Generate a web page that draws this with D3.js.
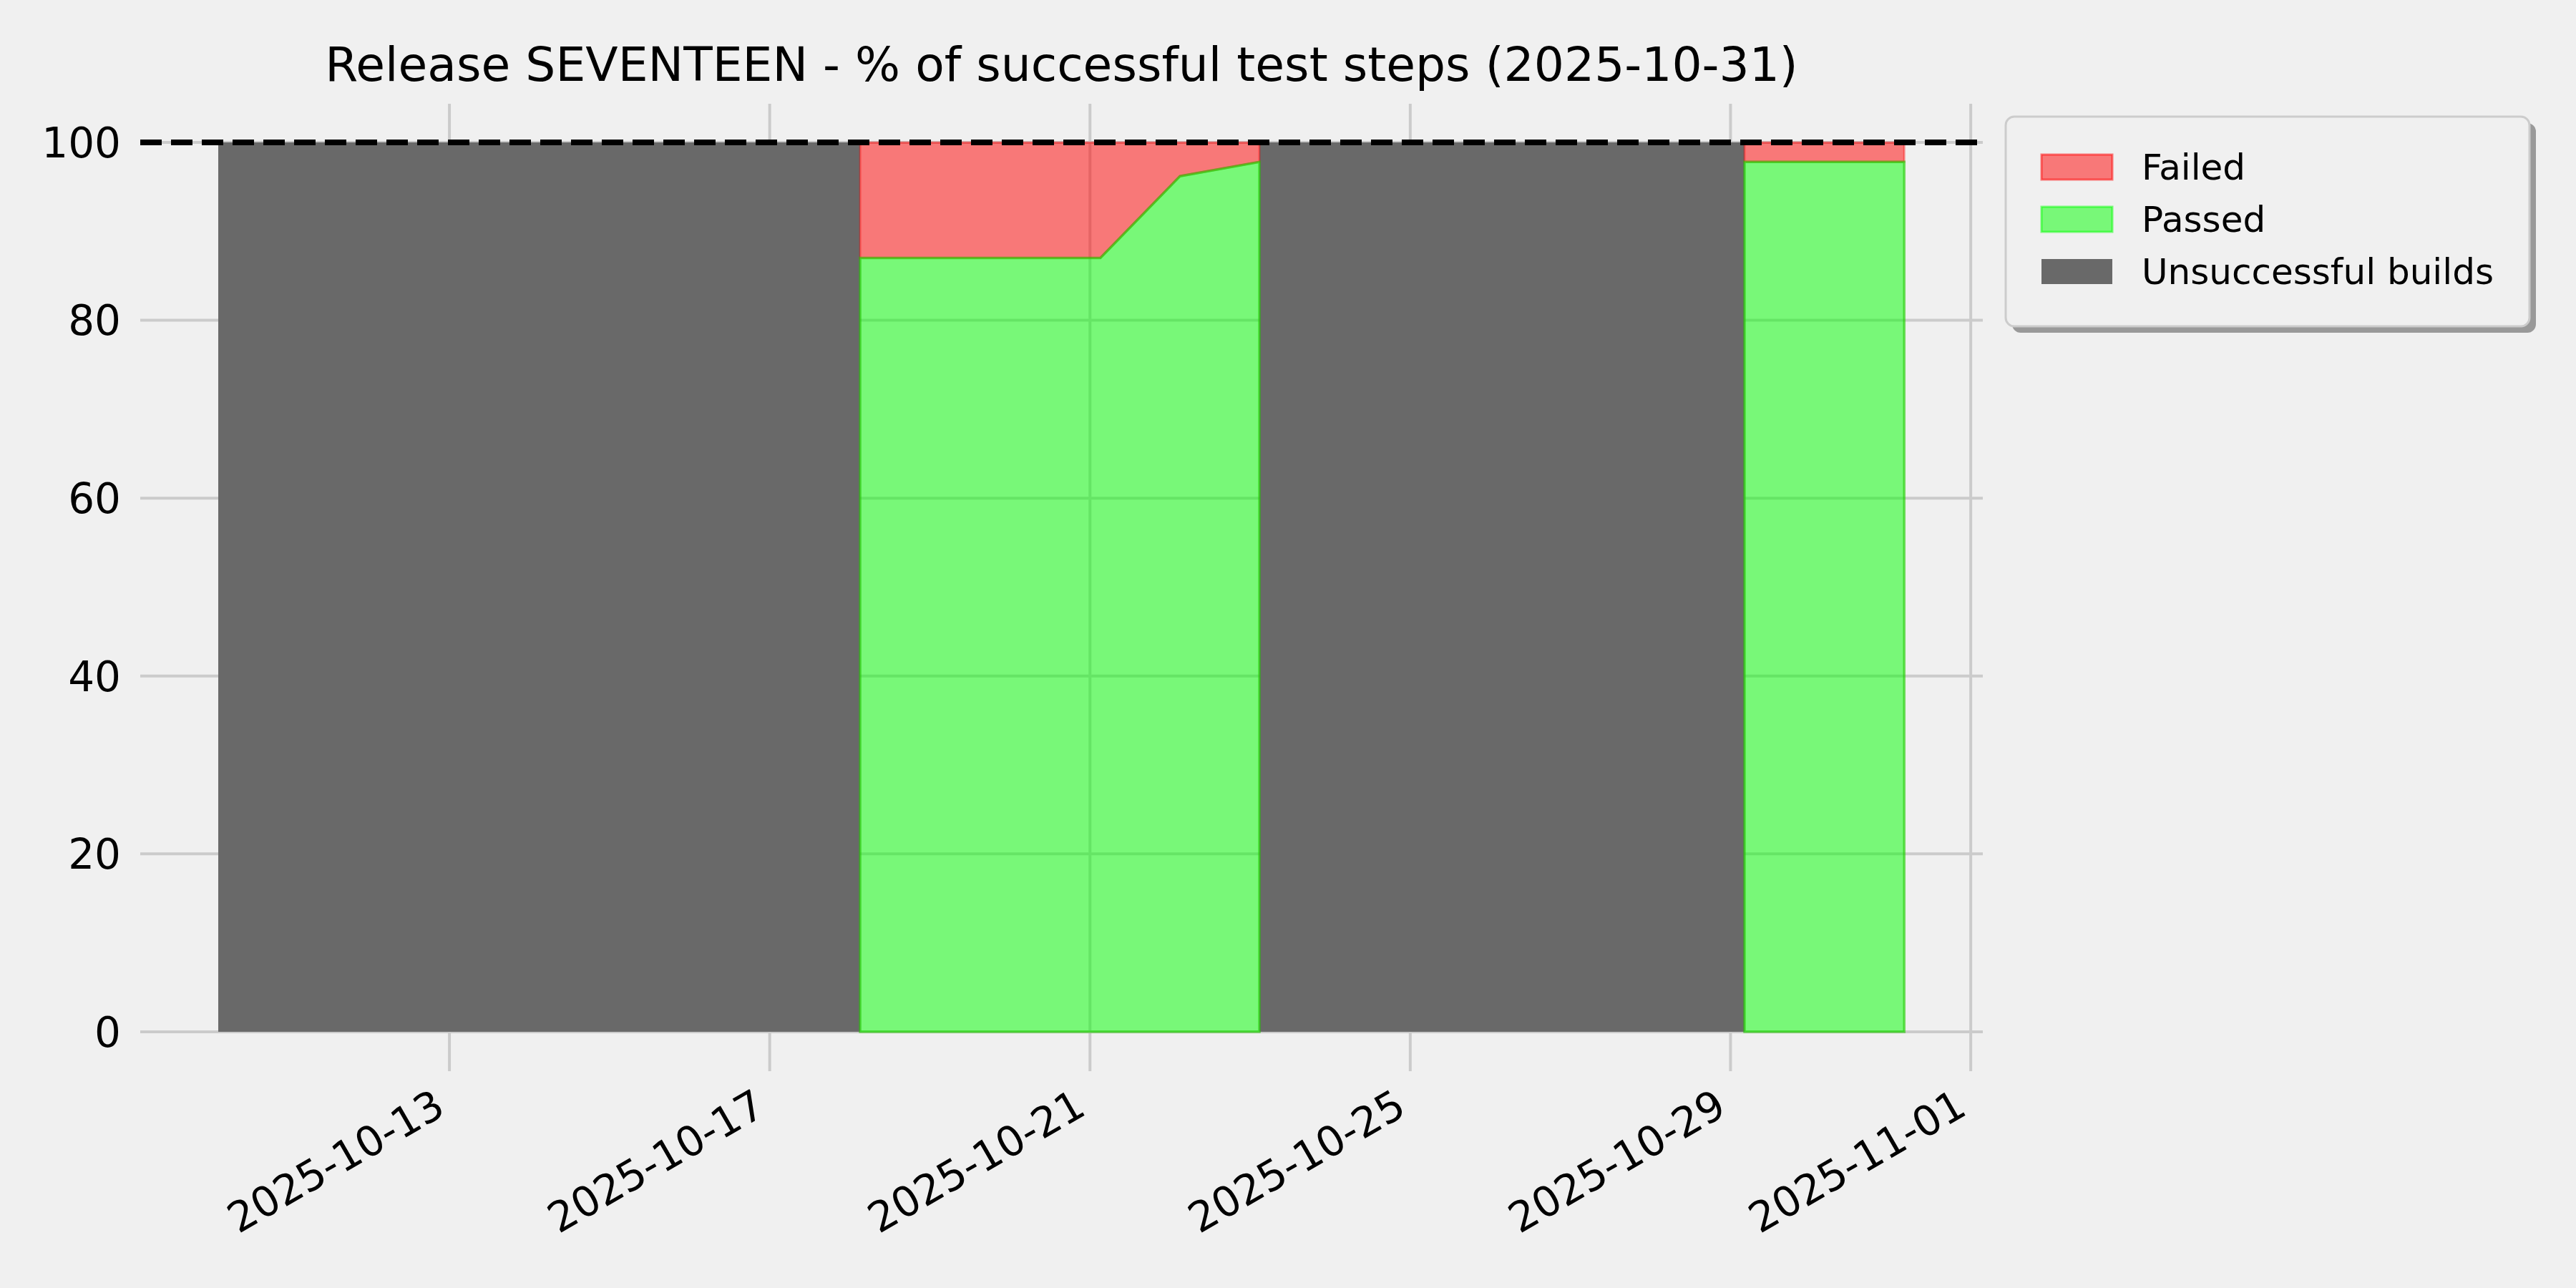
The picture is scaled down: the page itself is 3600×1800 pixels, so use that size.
<!DOCTYPE html>
<html>
<head>
<meta charset="utf-8">
<script src="https://cdn.jsdelivr.net/npm/d3@7"></script>
<style>
  html, body { margin: 0; padding: 0; background: #f0f0f0; }
  svg { display: block; }
</style>
</head>
<body>
<svg id="chart" width="3600" height="1800"></svg>
<script>
// data
const chartTitle = "Release SEVENTEEN - % of successful test steps (2025-10-31)";
const failedBuildStart = ["2025-10-10 02:43", "2025-10-23 02:47"];
const failedBuildEnd   = ["2025-10-18 03:07", "2025-10-29 04:12"];
const testDates = ["2025-10-18 03:07", "2025-10-19 03:07", "2025-10-20 03:07", "2025-10-21 03:07",
                   "2025-10-22 02:59", "2025-10-23 02:47",
                   "2025-10-29 04:12", "2025-10-30 04:08", "2025-10-31 04:05"];
const testGroup  = [1, 1, 1, 1, 1, 1, 2, 2, 2];
const passedPct  = [87.0, 87.0, 87.0, 87.0, 96.2, 97.8, 97.8, 97.8, 97.8];
const failedPct  = [13.0, 13.0, 13.0, 13.0, 3.8, 2.2, 2.2, 2.2, 2.2];
const xTickLabels = ["2025-10-13", "2025-10-17", "2025-10-21", "2025-10-25", "2025-10-29", "2025-11-01"];
const yTickValues = [0, 20, 40, 60, 80, 100];
const legendLabels = ["Failed", "Passed", "Unsuccessful builds"];

const parseTime = d3.utcParse("%Y-%m-%d %H:%M");
const parseDay = d3.utcParse("%Y-%m-%d");

const plotLeft = 196, plotRight = 2771, plotTop = 145, plotBottom = 1497;
const font = "DejaVu Sans, Liberation Sans, sans-serif";

const svg = d3.select("#chart");
svg.append("rect").attr("width", 3600).attr("height", 1800).style("fill", "#f0f0f0");

const x = d3.scaleUtc()
    .domain([parseTime("2025-10-09 03:20"), parseTime("2025-11-01 03:37")])
    .range([plotLeft, plotRight]);
const y = d3.scaleLinear()
    .domain([-4.43, 104.34])
    .range([plotBottom, plotTop]);

// grid
const grid = svg.append("g");
grid.selectAll(".gx").data(xTickLabels).enter().append("line")
    .attr("x1", d => x(parseDay(d))).attr("x2", d => x(parseDay(d)))
    .attr("y1", plotTop).attr("y2", plotBottom)
    .style("stroke", "#cbcbcb").style("stroke-width", 4);
grid.selectAll(".gy").data(yTickValues).enter().append("line")
    .attr("x1", plotLeft).attr("x2", plotRight)
    .attr("y1", d => y(d)).attr("y2", d => y(d))
    .style("stroke", "#cbcbcb").style("stroke-width", 4);

// unsuccessful builds (opaque)
svg.selectAll(".build").data(failedBuildStart).enter().append("rect")
    .attr("x", d => x(parseTime(d)))
    .attr("y", y(100))
    .attr("width", (d, i) => x(parseTime(failedBuildEnd[i])) - x(parseTime(d)))
    .attr("height", y(0) - y(100))
    .style("fill", "#696969");

// passed / failed stacked areas
const rows = testDates.map((d, i) => ({date: parseTime(d), group: testGroup[i], passed: passedPct[i], failed: failedPct[i]}));
const groups = d3.groups(rows, d => d.group);

const passedArea = d3.area()
    .x(d => x(d.date))
    .y0(y(0))
    .y1(d => y(d.passed));
const failedArea = d3.area()
    .x(d => x(d.date))
    .y0(d => y(d.passed))
    .y1(d => y(d.passed + d.failed));

groups.forEach(g => {
  svg.append("path").datum(g[1])
      .attr("d", failedArea)
      .style("fill", "red").style("fill-opacity", 0.5)
      .style("stroke", "red").style("stroke-opacity", 0.35).style("stroke-width", 3);
});
groups.forEach(g => {
  svg.append("path").datum(g[1])
      .attr("d", passedArea)
      .style("fill", "lime").style("fill-opacity", 0.5)
      .style("stroke", "#22cc00").style("stroke-opacity", 0.6).style("stroke-width", 3.5);
});

// 100% reference line
svg.append("line")
    .attr("x1", plotLeft).attr("x2", plotRight)
    .attr("y1", y(100)).attr("y2", y(100))
    .style("stroke", "#000").style("stroke-width", 8)
    .style("stroke-dasharray", "30,13");

// y tick labels
svg.selectAll(".ylab").data(yTickValues).enter().append("text")
    .attr("x", 169).attr("y", d => y(d))
    .attr("dy", "0.36em")
    .attr("text-anchor", "end")
    .style("font-family", font).style("font-size", "58px")
    .text(d => d);

// x tick labels, rotated
svg.selectAll(".xlab").data(xTickLabels).enter().append("text")
    .attr("text-anchor", "end")
    .attr("transform", d => "translate(" + (x(parseDay(d)) - 3) + ",1556) rotate(-30)")
    .style("font-family", font).style("font-size", "58px")
    .text(d => d);

// title
svg.append("text")
    .attr("x", (plotLeft + plotRight) / 2).attr("y", 113)
    .attr("text-anchor", "middle")
    .style("font-family", font).style("font-size", "66.3px")
    .text(chartTitle);

// legend
const lg = svg.append("g");
lg.append("rect")
    .attr("x", 2812).attr("y", 172).attr("width", 732).attr("height", 293)
    .attr("rx", 12)
    .style("fill", "#999999");
lg.append("rect")
    .attr("x", 2803).attr("y", 163).attr("width", 732).attr("height", 293)
    .attr("rx", 12)
    .style("fill", "#f0f0f0").style("stroke", "#cccccc").style("stroke-width", 3);

const patchFill = ["rgba(255,0,0,0.5)", "rgba(0,255,0,0.5)", "#696969"];
const patchStroke = ["rgba(255,0,0,0.5)", "rgba(0,255,0,0.5)", "none"];
lg.selectAll(".lp").data(legendLabels).enter().append("rect")
    .attr("x", 2853).attr("y", (d, i) => 216 + i * 73)
    .attr("width", 99).attr("height", 35)
    .style("fill", (d, i) => patchFill[i])
    .style("stroke", (d, i) => patchStroke[i]).style("stroke-width", 3);
lg.selectAll(".lt").data(legendLabels).enter().append("text")
    .attr("x", 2993).attr("y", (d, i) => 251 + i * 73)
    .style("font-family", font).style("font-size", "50px")
    .text(d => d);
</script>
</body>
</html>
